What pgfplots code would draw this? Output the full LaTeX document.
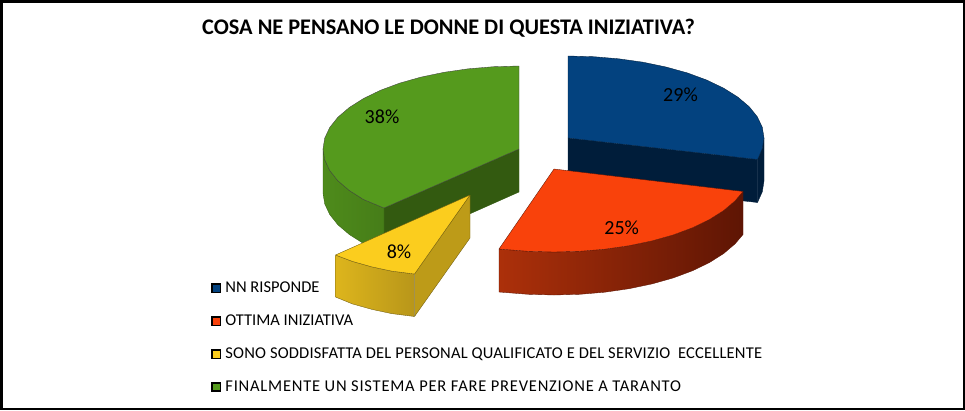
\documentclass[border=0pt]{standalone}
\usepackage{fontspec}
\setmainfont{Carlito}
\usepackage{pgfplots}
\pgfplotsset{compat=1.18}
\definecolor{blu}{HTML}{03427F}
\definecolor{bluD}{HTML}{001D3A}
\definecolor{ora}{HTML}{F9420B}
\definecolor{oraL}{HTML}{AC300A}
\definecolor{oraM}{HTML}{6E1B06}
\definecolor{oraR}{HTML}{5E1504}
\definecolor{yel}{HTML}{FBCD1E}
\definecolor{yelL}{HTML}{DDB51C}
\definecolor{yelR}{HTML}{B8961A}
\definecolor{yelD}{HTML}{BD9B18}
\definecolor{gre}{HTML}{559A1D}
\definecolor{greS}{HTML}{4E8B1B}
\definecolor{greD}{HTML}{335A10}
\pgfplotsset{
  slice/.style={draw=black!75, line width=0.35pt, line join=round},
  key/.style={legend image code/.code={\draw[##1,draw=black,line width=1.6pt] (0pt,-4.2pt) rectangle (8.6pt,4.2pt);}},
}
\begin{document}
\begin{tikzpicture}
\begin{axis}[
  scale only axis, width=965pt, height=410pt,
  xmin=0, xmax=965, ymin=0, ymax=410, y dir=reverse,
  axis lines=none, clip=false,
  every axis plot/.append style={forget plot},
  legend style={at={(axis cs:211,281)}, anchor=north west, draw=none, fill=none,
    font=\fontsize{16.5pt}{18pt}\selectfont, row sep=18.7pt, inner sep=0pt,
    nodes={inner sep=1pt}, /tikz/column 1/.style={column sep=3pt}},
  legend cell align=left,
]
% frame
\addplot[fill=black, draw=none] coordinates {(0,0)(965,0)(965,410)(0,410)} -- cycle;
\addplot[fill=white, draw=none] coordinates {(3,3)(962.5,3)(962.5,407.5)(3,407.5)} -- cycle;
% blue: NN RISPONDE
\addplot[slice, fill=bluD, draw=bluD] coordinates {(568,138)(757.5,159.5)(757.5,202.5)(568,181)} -- cycle;
\addplot[slice, fill=bluD, draw=bluD] coordinates {(764,138)(762.3,148.7)(757.5,159.5)(757.5,202.5)(762.3,191.7)(764,181)} -- cycle;
\addplot[slice, fill=blu, draw=bluD] coordinates {(568,138)(568,56)(593.6,56.7)(618.7,58.8)(643,62.2)(666,67)(687.3,72.9)(706.6,80)(723.5,88.1)(737.7,97)(749.1,106.6)(757.3,116.8)(762.3,127.3)(764,138)(762.3,148.7)(757.5,159.5)} -- cycle;
% green: FINALMENTE
\addplot[slice, fill=greD, draw=greD] coordinates {(519,149)(519,192)(384,252)(384,208)} -- cycle;
\addplot[slice, left color=greS, right color=greS!90!black, draw=greS!70!black] coordinates {(323,149)(324.7,159.8)(329.7,170.5)(337.9,180.8)(349.3,190.5)(363.5,199.5)(384,208)(384,252)(363.5,243.5)(349.3,234.5)(337.9,224.8)(329.7,214.5)(324.7,203.8)(323,193)} -- cycle;
\addplot[slice, fill=gre] coordinates {(519,149)(519,66)(493.4,66.7)(468.3,68.8)(444,72.3)(421,77.1)(399.7,83.1)(380.4,90.3)(363.5,98.5)(349.3,107.5)(337.9,117.2)(329.7,127.5)(324.7,138.2)(323,149)(324.7,159.8)(329.7,170.5)(337.9,180.8)(349.3,190.5)(363.5,199.5)(384,208)} -- cycle;
% orange: OTTIMA INIZIATIVA
\addplot[slice, left color=oraL, middle color=oraM, right color=oraR, draw=oraR] coordinates {(499,249)(528.4,251.3)(554,252)(579.6,251.3)(604.7,249.2)(629,245.7)(652,240.9)(673.3,234.9)(692.6,227.7)(709.5,219.5)(723.7,210.5)(735.1,200.8)(743,191.5)(743,234.5)(735.1,243.8)(723.7,253.5)(709.5,262.5)(692.6,270.7)(673.3,277.9)(652,283.9)(629,288.7)(604.7,292.2)(579.6,294.3)(554,295)(528.4,294.3)(499,292)} -- cycle;
\addplot[slice, fill=ora, draw=oraR] coordinates {(554,169)(743,191.5)(735.1,200.8)(723.7,210.5)(709.5,219.5)(692.6,227.7)(673.3,234.9)(652,240.9)(629,245.7)(604.7,249.2)(579.6,251.3)(554,252)(528.4,251.3)(499,249)} -- cycle;
% yellow: SONO SODDISFATTA
\addplot[slice, fill=yelD, draw=yelD!60!black] coordinates {(470,195)(470,238)(414.5,316.5)(414.5,274)} -- cycle;
\addplot[slice, left color=yelL, right color=yelR, draw=yelD!60!black] coordinates {(335.5,255)(352.4,261.4)(372,266.9)(391.6,271.1)(414.5,274)(414.5,316.5)(391.6,313.6)(372,309.4)(352.4,303.9)(335.5,297)} -- cycle;
\addplot[slice, fill=yel, draw=yelD!60!black] coordinates {(470,195)(414.5,274)(391.6,271.1)(372,266.9)(352.4,261.4)(335.5,255)} -- cycle;
% legend
\addlegendimage{key, fill=blu}
\addlegendentry{NN RISPONDE}
\addlegendimage{key, fill=ora}
\addlegendentry{OTTIMA INIZIATIVA}
\addlegendimage{key, fill=yel}
\addlegendentry{\addfontfeature{LetterSpace=1.2}SONO SODDISFATTA DEL PERSONAL QUALIFICATO E DEL SERVIZIO~~ECCELLENTE}
\addlegendimage{key, fill=gre}
\addlegendentry{\addfontfeature{LetterSpace=4.7}FINALMENTE UN SISTEMA PER FARE PREVENZIONE A TARANTO}
% labels
\node[font=\fontsize{20pt}{22pt}\selectfont] at (axis cs:680.5,95) {29\%};
\node[font=\fontsize{20pt}{22pt}\selectfont] at (axis cs:621.7,227.5) {25\%};
\node[font=\fontsize{20pt}{22pt}\selectfont] at (axis cs:399,252) {8\%};
\node[font=\fontsize{20pt}{22pt}\selectfont] at (axis cs:382,117) {38\%};
\node[font=\fontsize{22.3pt}{24pt}\selectfont\bfseries] at (axis cs:448.5,28) {COSA NE PENSANO LE DONNE DI QUESTA INIZIATIVA?};
\end{axis}
\end{tikzpicture}
\end{document}
